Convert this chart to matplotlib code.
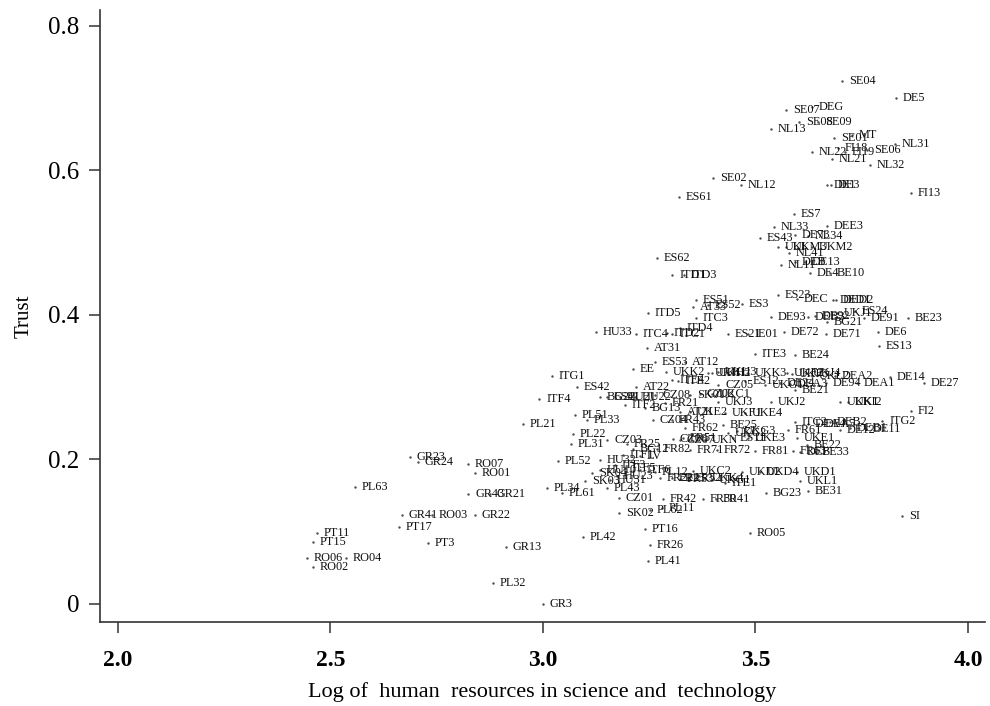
import matplotlib.pyplot as plt

# regions: label, log HRST, trust
labels = [
    "GR3", "PL32", "RO02", "RO06", "RO04", "PT3", "PT15", "PT11", "GR13", "PT17",
    "GR41", "RO03", "GR22", "GR43", "GR21", "PL63", "RO01", "RO07", "GR23", "GR24",
    "PL42", "PT16", "FR26", "PL41", "SK02", "PL62", "PL11", "CZ01", "FR42", "FR30",
    "FR41", "PL34", "PL61", "PL43", "SK03", "SK04", "HU23", "PL52", "HU32", "PL31",
    "PL22", "PL21", "PL51", "PL33", "ITF4", "ES42", "ITG1", "EE", "AT22", "ES53",
    "AT12", "AT31", "HU33", "ITC4", "ITD2", "ITC1", "ITD4", "ITD5", "ITC3", "ES51",
    "AT33", "ES52", "ES3", "ES62", "ITD1", "ITD3", "ES61", "SE02", "NL12", "ES21",
    "IE01", "ITE3", "BE24", "DE72", "DE71", "DE6", "ES13", "DE93", "DEB3", "DE92",
    "BG21", "UKJ1", "ES24", "DE91", "BE23", "ES23", "DEC", "DED1", "DED2", "DE4",
    "BE10", "NL11", "DEB", "DE13", "NL41", "UKI", "UKM3", "UKM2", "ES43", "DE73",
    "NL34", "NL33", "DEE3", "ES7", "FI13", "DE1", "DE3", "NL32", "NL21", "NL22",
    "FI18", "FI19", "SE06", "NL31", "SE01", "MT", "NL13", "SE08", "SE09", "SE07",
    "DEG", "DE5", "SE04", "DE14", "DE27", "UKJ2", "UKK1", "UKI2", "FI2", "ITG2",
    "ITC2", "DEA4", "DEA5", "DEB2", "DEB1", "DE11", "DE12", "FR61", "UKE1", "BE22",
    "ES11", "UKE3", "FR81", "FR63", "DEF", "BE33", "FR71", "FR72", "BG12", "FR82",
    "CZ03", "FR25", "LV", "ITF1", "ITF3", "ITF5", "ITF6", "PL12", "HU10", "HU31",
    "FR22", "FR23", "FR53", "FR52", "UKC2", "UKK4", "UKG1", "ITE1", "UKD2", "UKD4",
    "UKD1", "UKL1", "BG23", "BE31", "SI", "RO05", "CZ04", "FR43", "AT21", "UKE2",
    "UKF1", "UKE4", "BE25", "FR62", "FR51", "CZ06", "UKG2", "UKG3", "CZ07", "UKK2",
    "ITE4", "ITE2", "UKH1", "UKH2", "UKH3", "UKK3", "UKF2", "UKF3", "UKJ4", "UKL2",
    "DEA2", "ES12", "CZ05", "UKG1", "DE94", "DEA1", "BE21", "DE24", "DEA3", "BG22",
    "ES41", "HU21", "HU22", "ITF2", "BG13", "SK01", "CZ02", "UKC1", "UKJ3", "FR21",
    "CZ08", "UKN",
]
hrst = [
    3.000, 2.882, 2.459, 2.445, 2.536, 2.729, 2.459, 2.468, 2.913, 2.661,
    2.668, 2.739, 2.840, 2.824, 2.875, 2.558, 2.840, 2.824, 2.687, 2.706,
    3.094, 3.240, 3.252, 3.247, 3.179, 3.252, 3.280, 3.179, 3.282, 3.376,
    3.407, 3.009, 3.045, 3.151, 3.099, 3.115, 3.174, 3.035, 3.134, 3.066,
    3.071, 2.953, 3.075, 3.104, 2.991, 3.080, 3.021, 3.212, 3.219, 3.264,
    3.334, 3.245, 3.125, 3.219, 3.292, 3.304, 3.322, 3.247, 3.360, 3.360,
    3.353, 3.388, 3.468, 3.268, 3.304, 3.332, 3.320, 3.400, 3.466, 3.435,
    3.482, 3.499, 3.593, 3.567, 3.666, 3.788, 3.791, 3.536, 3.624, 3.640,
    3.668, 3.692, 3.734, 3.755, 3.859, 3.553, 3.598, 3.682, 3.689, 3.628,
    3.675, 3.560, 3.593, 3.616, 3.579, 3.553, 3.572, 3.633, 3.511, 3.593,
    3.624, 3.544, 3.668, 3.591, 3.866, 3.668, 3.678, 3.769, 3.680, 3.633,
    3.694, 3.711, 3.762, 3.828, 3.685, 3.727, 3.536, 3.602, 3.647, 3.572,
    3.633, 3.831, 3.704, 3.816, 3.896, 3.536, 3.699, 3.718, 3.866, 3.798,
    3.593, 3.624, 3.647, 3.675, 3.722, 3.760, 3.699, 3.576, 3.598, 3.621,
    3.447, 3.482, 3.499, 3.588, 3.605, 3.640, 3.346, 3.409, 3.212, 3.268,
    3.151, 3.198, 3.228, 3.188, 3.169, 3.193, 3.228, 3.264, 3.134, 3.158,
    3.275, 3.304, 3.322, 3.341, 3.353, 3.381, 3.398, 3.428, 3.468, 3.511,
    3.598, 3.605, 3.525, 3.624, 3.845, 3.487, 3.259, 3.304, 3.322, 3.346,
    3.428, 3.475, 3.424, 3.334, 3.329, 3.306, 3.435, 3.456, 3.322, 3.289,
    3.304, 3.318, 3.388, 3.398, 3.412, 3.482, 3.574, 3.586, 3.619, 3.633,
    3.687, 3.476, 3.412, 3.522, 3.666, 3.739, 3.593, 3.558, 3.581, 3.134,
    3.151, 3.181, 3.216, 3.193, 3.240, 3.346, 3.369, 3.398, 3.412, 3.287,
    3.264, 3.381,
]
trust = [
    0.000, 0.029, 0.051, 0.064, 0.064, 0.084, 0.086, 0.098, 0.079, 0.107,
    0.123, 0.123, 0.123, 0.152, 0.152, 0.162, 0.181, 0.194, 0.203, 0.197,
    0.093, 0.104, 0.082, 0.060, 0.126, 0.130, 0.133, 0.147, 0.145, 0.145,
    0.145, 0.161, 0.154, 0.161, 0.170, 0.181, 0.177, 0.198, 0.199, 0.221,
    0.235, 0.249, 0.262, 0.255, 0.284, 0.300, 0.316, 0.325, 0.300, 0.335,
    0.335, 0.354, 0.376, 0.374, 0.375, 0.374, 0.382, 0.403, 0.396, 0.421,
    0.411, 0.414, 0.415, 0.478, 0.455, 0.455, 0.563, 0.590, 0.580, 0.374,
    0.374, 0.346, 0.345, 0.376, 0.374, 0.376, 0.357, 0.397, 0.397, 0.399,
    0.390, 0.403, 0.406, 0.396, 0.396, 0.428, 0.422, 0.421, 0.421, 0.458,
    0.458, 0.469, 0.473, 0.473, 0.486, 0.494, 0.494, 0.494, 0.507, 0.511,
    0.509, 0.522, 0.523, 0.540, 0.569, 0.580, 0.580, 0.608, 0.616, 0.626,
    0.631, 0.626, 0.628, 0.637, 0.645, 0.649, 0.657, 0.667, 0.667, 0.684,
    0.687, 0.700, 0.724, 0.314, 0.306, 0.280, 0.280, 0.280, 0.267, 0.253,
    0.252, 0.249, 0.249, 0.252, 0.244, 0.242, 0.241, 0.241, 0.230, 0.220,
    0.230, 0.230, 0.212, 0.212, 0.210, 0.210, 0.213, 0.213, 0.215, 0.215,
    0.227, 0.221, 0.205, 0.206, 0.192, 0.188, 0.185, 0.183, 0.185, 0.172,
    0.174, 0.174, 0.173, 0.174, 0.184, 0.174, 0.172, 0.167, 0.183, 0.183,
    0.183, 0.170, 0.154, 0.156, 0.122, 0.098, 0.255, 0.255, 0.266, 0.266,
    0.264, 0.264, 0.248, 0.244, 0.230, 0.228, 0.237, 0.239, 0.227, 0.321,
    0.310, 0.309, 0.320, 0.320, 0.321, 0.320, 0.320, 0.318, 0.320, 0.316,
    0.316, 0.309, 0.303, 0.303, 0.306, 0.306, 0.296, 0.306, 0.304, 0.287,
    0.287, 0.287, 0.287, 0.275, 0.271, 0.289, 0.291, 0.291, 0.280, 0.278,
    0.289, 0.227,
]

serif = "Liberation Serif"

fig = plt.figure(figsize=(9.9, 7.06), dpi=100)
ax = fig.add_axes([0.101, 0.119, 0.894, 0.867])

ax.scatter(hrst, trust, s=3, color="0.3", linewidths=0, zorder=2)
for lab, xv, yv in zip(labels, hrst, trust):
    ax.annotate(lab, (xv, yv), xytext=(5, 0), textcoords="offset points",
                va="center", ha="left", fontsize=8.8, family=serif, color="#111111")

ax.set_xlim(1.958, 4.040)
ax.set_ylim(-0.025, 0.822)
ax.set_xticks([2.0, 2.5, 3.0, 3.5, 4.0])
ax.set_xticklabels(["2.0", "2.5", "3.0", "3.5", "4.0"], family=serif,
                   fontsize=17, fontweight="bold")
ax.set_yticks([0, 0.2, 0.4, 0.6, 0.8])
ax.set_yticklabels(["0", "0.2", "0.4", "0.6", "0.8"], family=serif, fontsize=18)

for side in ["top", "right"]:
    ax.spines[side].set_visible(False)
for side in ["left", "bottom"]:
    ax.spines[side].set_linewidth(1.2)
    ax.spines[side].set_color("#333333")

ax.tick_params(axis="both", direction="out", length=8, width=1.1, color="#333333")
ax.tick_params(axis="x", pad=12)
ax.tick_params(axis="y", pad=7)

ax.set_xlabel("Log of  human  resources in science and  technology", family=serif,
              fontsize=16, labelpad=8)
ax.set_ylabel("Trust", family=serif, fontsize=15, labelpad=10)

fig.savefig("out.png", dpi=100)
